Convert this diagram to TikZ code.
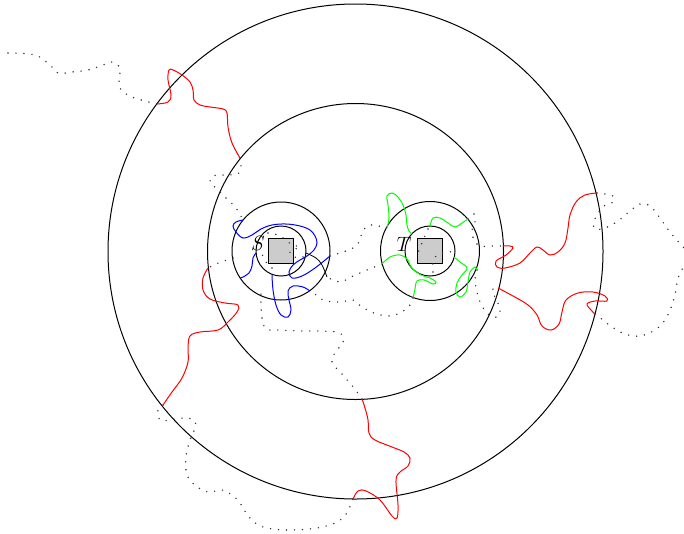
\documentclass[tikz,border=0pt]{standalone}
\begin{document}
\begin{tikzpicture}[x=1pt,y=-1pt,
  ring/.style={draw=black,line width=1pt},
  walkdots/.style={draw=black!80,line width=1.6pt,line cap=round,dash pattern=on 0pt off 8pt},
  redwalk/.style={draw=red,line width=1pt},
  bluewalk/.style={draw=blue,line width=1pt},
  greenwalk/.style={draw=green,line width=1pt},
  blackwalk/.style={draw=black,line width=0.8pt},
  target/.style={draw=black,fill=black!20,line width=0.9pt,minimum size=25pt,inner sep=0pt},
  lab/.style={font=\fontsize{20}{24}\selectfont,inner sep=0pt},
  sm/.style={smooth,tension=0.6}]
\useasboundingbox (0,0) rectangle (684,533);
\coordinate (cB) at (355.5,251.5);
\coordinate (cS) at (281,251);
\coordinate (cT) at (430,251);
% rings
\draw[ring] (cB) circle[radius=247.5pt];
\draw[ring] (cB) circle[radius=148pt];
\draw[ring] (cS) circle[radius=49pt];
\draw[ring] (cS) circle[radius=25pt];
\draw[ring] (cT) circle[radius=49.5pt];
\draw[ring] (cT) circle[radius=25pt];
% targets
\node[target] (sqS) at (cS) {};
\node[target] (sqT) at (cT) {};
% dotted walk pieces
\draw[walkdots] plot[sm] coordinates {(8,53) (35,55) (50,65) (58,73) (72,72) (88,70) (103,65) (112,62) (120,68) (119,80) (121,90) (132,97) (145,101) (157,104)};
\draw[walkdots] plot[sm] coordinates {(240,158) (241,167) (238,174) (225,175) (213,176) (210,182) (217,189) (227,199) (236,208) (243,220)};
\draw[walkdots] plot[sm] coordinates {(233,258) (224,261) (216,264) (208,268)};
\draw[walkdots] plot[sm] coordinates {(163,405) (158,410) (160,420) (170,420) (183,418) (194,420) (195,428) (190,440) (186,457) (187,475) (196,486) (208,492) (222,490) (232,495) (240,503) (249,517) (263,527) (290,530) (322,527) (343,518) (353,499)};
\draw[walkdots] plot[sm] coordinates {(362,399) (354,388) (342,374) (332,362) (336,351) (343,343) (340,333) (320,331) (300,331) (278,330) (266,329) (262,318) (261,305) (261,294)};
\draw[walkdots] plot[sm] coordinates {(330,256) (343,252) (353,248) (360,241) (362,232) (370,225) (383,227) (387,228)};
\draw[walkdots] plot[sm] coordinates {(468,219) (471,216) (474,214) (475,222) (472,230) (474,240) (480,246) (492,246) (503,246)};
\draw[walkdots] plot[sm] coordinates {(597,193) (605,194) (613,196) (613,202) (604,206) (598,213) (594,222) (595,229) (605,228) (618,221) (630,211) (640,204) (650,206) (660,218) (670,232) (684,248)};
\draw[walkdots] plot[sm] coordinates {(595,314) (603,320) (612,327) (625,334) (640,336) (655,330) (665,320) (672,305) (676,290) (678,278) (684,266)};
\draw[walkdots] plot[sm] coordinates {(477,270) (475,280) (477,292) (481,304) (488,314) (497,317) (500,309) (495,297) (492,290) (498,288)};
\draw[walkdots] plot[sm] coordinates {(413,298) (410,305) (400,313) (388,316) (374,313) (362,307) (353,300) (340,302) (323,300) (311,290)};
\draw[walkdots] plot[sm] coordinates {(382,264) (367,270) (353,276) (340,282) (327,277)};
\draw[walkdots] plot[sm] coordinates {(268,233) (278,235) (286,240) (292,245) (300,247) (290,251) (292,256) (300,258) (304,256)};
\draw[walkdots] plot[sm] coordinates {(272,268) (266,262) (262,254)};
\draw[walkdots] plot[sm] coordinates {(428,229) (424,238) (420,248) (416,257)};
\draw[walkdots] plot[sm] coordinates {(433,272) (433,263) (436,256) (442,253) (449,252) (455,251)};
% red pieces (big annulus)
\draw[redwalk] plot[sm] coordinates {(157,104) (168,102) (171,95) (168,80) (169,70) (173,70) (182,75) (190,82) (193,90) (194,100) (200,105) (210,107) (223,109) (227,113) (228,127) (232,143) (240,158)};
\draw[redwalk] plot[sm] coordinates {(208,268) (203,278) (203,290) (210,299) (225,303) (238,305) (237,312) (228,322) (218,330) (200,332) (190,336) (188,348) (188,362) (182,378) (172,392) (163,405)};
\draw[redwalk] plot[sm] coordinates {(353,499) (358,491) (366,491) (380,500) (392,516) (397,518) (398,505) (396,480) (400,472) (408,466) (410,458) (404,452) (392,447) (375,440) (369,433) (368,420) (365,408) (362,399)};
\draw[redwalk] plot[sm] coordinates {(503,246) (510,246) (513,248) (506,255) (496,261) (497,267) (505,268) (520,263) (530,253) (537,247) (543,250) (550,255) (558,252) (565,243) (568,228) (570,215) (576,202) (585,195) (597,193)};
\draw[redwalk] plot[sm] coordinates {(498,288) (513,296) (528,305) (537,315) (542,326) (551,330) (559,324) (562,312) (566,300) (578,293) (593,292) (605,296) (607,301) (595,301) (587,304) (591,310) (595,314)};
% blue pieces (S annulus)
\draw[bluewalk] plot[sm] coordinates {(243,220) (236,222) (233,226) (236,232) (243,238) (252,235) (261,229) (272,225) (286,224) (300,226) (310,230) (315,236) (317,243) (314,250) (307,256) (300,260) (293,265) (289,272) (292,278) (302,276) (315,268) (330,256)};
\draw[bluewalk] plot[sm] coordinates {(256,253) (253,258) (252,266) (249,273) (243,277) (240,278)};
\draw[bluewalk] plot[sm] coordinates {(272,275) (273,290) (276,305) (281,315) (288,317) (291,310) (289,300) (288,291) (293,286) (303,287) (310,291)};
\draw[blackwalk] plot[sm] coordinates {(306,253) (316,258) (322,265) (327,277)};
% green pieces (T annulus)
\draw[greenwalk] plot[sm] coordinates {(387,228) (389,218) (388,205) (387,196) (392,193) (398,197) (403,205) (406,215) (407,225) (409,231) (412,234)};
\draw[greenwalk] plot[sm] coordinates {(430,226) (433,218) (440,218) (448,223) (455,227) (462,223) (468,219)};
\draw[greenwalk] plot[sm] coordinates {(454,257) (460,262) (467,268) (462,275) (457,283) (456,292) (460,297) (466,292) (468,282) (470,272) (475,267) (477,270)};
\draw[greenwalk] plot[sm] coordinates {(382,264) (390,257) (400,255) (407,259) (412,268) (421,275) (430,278) (436,282) (433,284) (424,280) (417,281) (415,289) (413,298)};
% labels
\node[lab] (labS) at (258,243) {$S$};
\node[lab] (labT) at (404,244) {$T$};
\end{tikzpicture}
\end{document}
